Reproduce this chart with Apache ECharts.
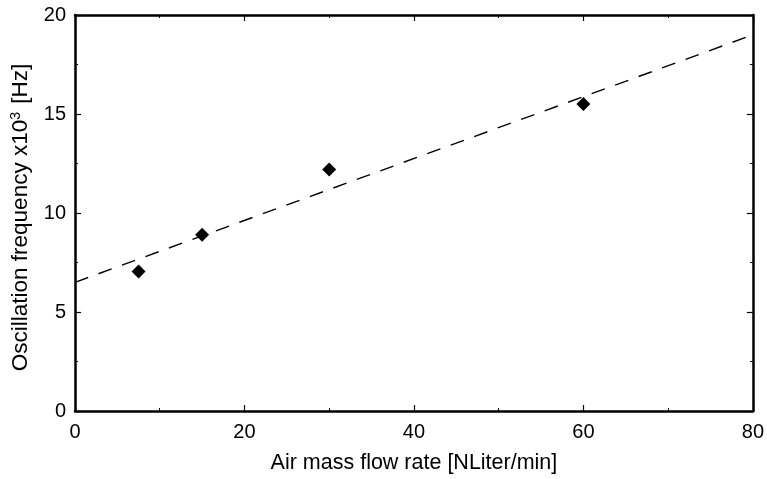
<!DOCTYPE html>
<html><head><meta charset="utf-8">
<script src="https://cdn.jsdelivr.net/npm/echarts@6/dist/echarts.min.js"></script>
<style>html,body{margin:0;padding:0;background:#fff}#c{width:767px;height:479px}</style>
</head><body><div id="c"></div>
<script>
const flowRate = [7.5, 15, 30, 60];
const frequency = [7.05, 8.9, 12.2, 15.5];
const fitX = [0, 80];
const fitY = [6.5, 19.0];
const xTicks = [0, 20, 40, 60, 80];
const yTicks = [0, 5, 10, 15, 20];

const chart = echarts.init(document.getElementById('c'));
const font = 'Liberation Sans, Arial, sans-serif';
const baseAxis = {
  axisLine: {show: true, onZero: false, lineStyle: {color: '#000', width: 2.5}},
  axisTick: {show: true, inside: true, length: 6, lineStyle: {color: '#000', width: 1.2}},
  minorTick: {show: true, splitNumber: 2, length: 3, lineStyle: {color: '#000', width: 1}},
  splitLine: {show: false}
};
chart.setOption({
  animation: false,
  grid: {left: 75, right: 13, top: 15, bottom: 68},
  xAxis: [
    Object.assign({}, baseAxis, {
      type: 'value', min: xTicks[0], max: xTicks[xTicks.length-1], interval: 20,
      name: 'Air mass flow rate [NLiter/min]', nameLocation: 'middle', nameGap: 41,
      nameTextStyle: {fontFamily: font, fontSize: 21.5, color: '#000'},
      axisLabel: {fontFamily: font, fontSize: 20, color: '#000', margin: 11}
    }),
    Object.assign({}, baseAxis, {
      type: 'value', position: 'top', min: 0, max: 80, interval: 20,
      axisLabel: {show: false}
    })
  ],
  yAxis: [
    Object.assign({}, baseAxis, {
      type: 'value', min: yTicks[0], max: yTicks[yTicks.length-1], interval: 5,
      name: 'Oscillation frequency x10{sup|3} [Hz]', nameLocation: 'middle', nameGap: 42,
      nameTextStyle: {fontFamily: font, fontSize: 22.5, color: '#000', padding: [0, 9, 0, 0],
        rich: {sup: {fontFamily: font, fontSize: 14, color: '#000', verticalAlign: 'top', padding: [0,2,10,0]}}},
      axisLabel: {fontFamily: font, fontSize: 20, color: '#000', margin: 9}
    }),
    Object.assign({}, baseAxis, {
      type: 'value', position: 'right', min: 0, max: 20, interval: 5,
      axisLabel: {show: false}
    })
  ],
  series: [
    {
      type: 'line', xAxisIndex: 0, yAxisIndex: 0,
      data: fitX.map((x, i) => [x, fitY[i]]),
      showSymbol: false, symbol: 'none',
      lineStyle: {color: '#000', width: 1.4, type: [14, 11]}
    },
    {
      type: 'scatter', xAxisIndex: 0, yAxisIndex: 0,
      data: flowRate.map((x, i) => [x, frequency[i]]),
      symbol: 'diamond', symbolSize: 14,
      itemStyle: {color: '#000', opacity: 1}
    }
  ]
});
</script></body></html>
